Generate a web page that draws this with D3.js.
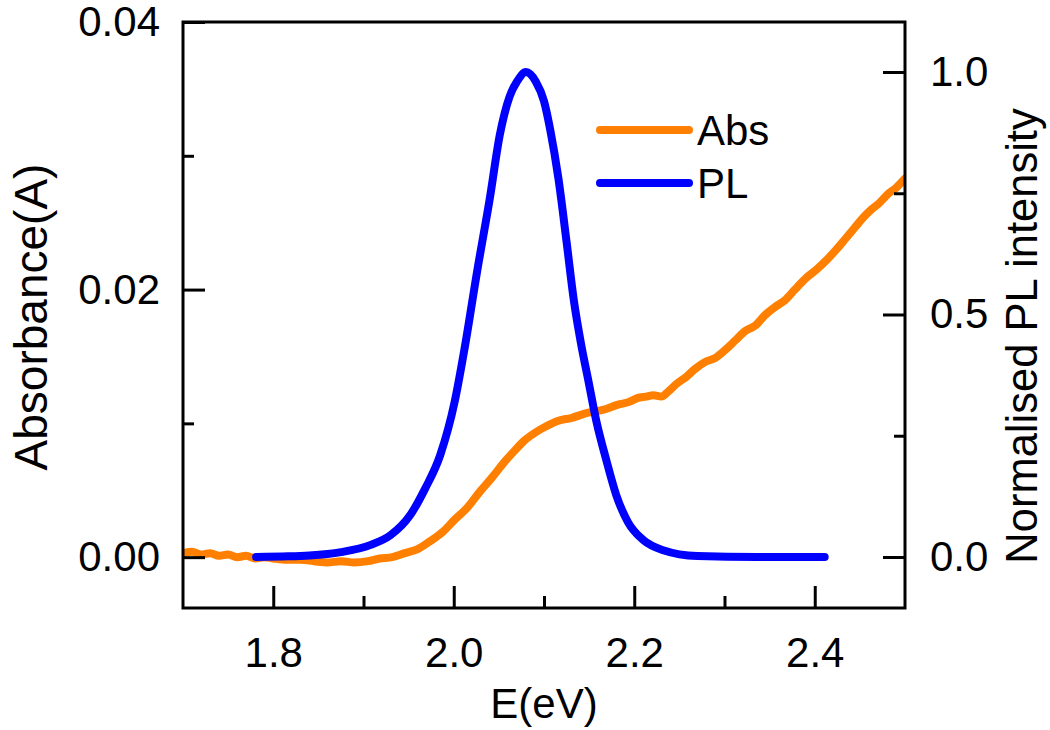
<!DOCTYPE html>
<html>
<head>
<meta charset="utf-8">
<script src="https://cdn.jsdelivr.net/npm/d3@7"></script>
<style>
  html, body { margin: 0; padding: 0; background: #fff; }
  svg { display: block; font-family: "Liberation Sans", Arial, sans-serif; }
</style>
</head>
<body>
<svg id="chart" width="1050" height="730"></svg>
<script>
// Absorbance spectrum (left axis)
const absEnergy = [1.700, 1.710, 1.720, 1.730, 1.740, 1.750, 1.760, 1.770, 1.780, 1.790,
  1.800, 1.815, 1.830, 1.845, 1.860, 1.875, 1.890, 1.905, 1.918, 1.932,
  1.946, 1.960, 1.974, 1.988, 2.001, 2.015, 2.029, 2.043, 2.056, 2.068,
  2.078, 2.090, 2.103, 2.116, 2.130, 2.149, 2.165, 2.182, 2.194, 2.204,
  2.213, 2.221, 2.230, 2.238, 2.246, 2.258, 2.268, 2.279, 2.290, 2.301,
  2.312, 2.323, 2.334, 2.345, 2.356, 2.367, 2.378, 2.391, 2.402, 2.413,
  2.424, 2.434, 2.444, 2.454, 2.463, 2.472, 2.482, 2.490, 2.500];
const absValue = [0.0003, 0.0004, 0.0002, 0.0003, 0.0001, 0.0002, 0.0000, 0.0001, -0.0001, 0.0000,
  -0.0001, -0.0002, -0.0002, -0.0003, -0.0004, -0.0003, -0.0004, -0.0003, -0.0001, 0.0000,
  0.0003, 0.0006, 0.0012, 0.0019, 0.0028, 0.0037, 0.0049, 0.0060, 0.0071, 0.0080,
  0.0087, 0.0093, 0.0098, 0.0102, 0.0104, 0.0108, 0.0110, 0.0114, 0.0116, 0.0119,
  0.0120, 0.0121, 0.0120, 0.0124, 0.0129, 0.0135, 0.0141, 0.0146, 0.0149, 0.0155,
  0.0162, 0.0169, 0.0173, 0.0181, 0.0187, 0.0192, 0.0200, 0.0209, 0.0215, 0.0222,
  0.0230, 0.0238, 0.0246, 0.0254, 0.0260, 0.0265, 0.0272, 0.0276, 0.0283];

// Photoluminescence spectrum, normalised (right axis)
const plEnergy = [1.781, 1.810, 1.840, 1.875, 1.908, 1.930, 1.952, 1.968, 1.985, 2.001,
  2.012, 2.026, 2.040, 2.051, 2.062, 2.070, 2.080, 2.091, 2.100, 2.107,
  2.116, 2.125, 2.133, 2.141, 2.149, 2.158, 2.169, 2.180, 2.193, 2.210,
  2.232, 2.270, 2.336, 2.411];
const plValue = [0.000, 0.001, 0.003, 0.010, 0.025, 0.045, 0.087, 0.140, 0.210, 0.320,
  0.430, 0.590, 0.740, 0.870, 0.950, 0.980, 1.000, 0.980, 0.940, 0.880,
  0.780, 0.650, 0.530, 0.440, 0.365, 0.280, 0.200, 0.128, 0.072, 0.035,
  0.014, 0.002, 0.000, 0.000];

const absTicks = [0.00, 0.02, 0.04];
const absMinorTicks = [0.01, 0.03];
const plTicks = [0.0, 0.5, 1.0];
const plMinorTicks = [0.25, 0.75];
const energyTicks = [1.8, 2.0, 2.2, 2.4];
const energyMinorTicks = [1.9, 2.1, 2.3];

const legendItems = [
  { label: "Abs", color: "#ff7f00" },
  { label: "PL", color: "#0000ff" }
];

const svg = d3.select("#chart");
const plot = { left: 183, right: 905, top: 22, bottom: 608 };
const fontSize = 42;
const lineWidth = 8;

const x = d3.scaleLinear().domain([1.7, 2.5]).range([plot.left, plot.right]);
const yAbs = d3.scaleLinear().domain([-0.0038, 0.04]).range([plot.bottom, plot.top]);
const yPL = d3.scaleLinear().domain([-0.1052, 1.1031]).range([plot.bottom, plot.top]);

svg.append("defs").append("clipPath").attr("id", "plot-clip")
  .append("rect")
  .attr("x", plot.left).attr("y", plot.top)
  .attr("width", plot.right - plot.left).attr("height", plot.bottom - plot.top);

// Data lines
const absLine = d3.line().x((d, i) => x(absEnergy[i])).y(d => yAbs(d)).curve(d3.curveMonotoneX);
const plLine = d3.line().x((d, i) => x(plEnergy[i])).y(d => yPL(d)).curve(d3.curveMonotoneX);

const lines = svg.append("g").attr("clip-path", "url(#plot-clip)");
lines.append("path").datum(absValue)
  .attr("d", absLine)
  .attr("fill", "none").attr("stroke", legendItems[0].color)
  .attr("stroke-width", lineWidth).attr("stroke-linecap", "round").attr("stroke-linejoin", "round");
lines.append("path").datum(plValue)
  .attr("d", plLine)
  .attr("fill", "none").attr("stroke", legendItems[1].color)
  .attr("stroke-width", lineWidth).attr("stroke-linecap", "round").attr("stroke-linejoin", "round");

// Axes: ticks point inward
function styleAxis(g) {
  g.select(".domain").remove();
  g.selectAll("line").attr("stroke", "#000").attr("stroke-width", 3);
  g.selectAll("text").attr("font-size", fontSize).attr("fill", "#000")
    .attr("font-family", "'Liberation Sans', Arial, sans-serif");
}

const bottomMajor = svg.append("g").attr("transform", `translate(0,${plot.bottom})`)
  .call(d3.axisBottom(x).tickValues(energyTicks).tickFormat(d3.format(".1f"))
    .tickSize(-22).tickPadding(29));
styleAxis(bottomMajor);
const bottomMinor = svg.append("g").attr("transform", `translate(0,${plot.bottom})`)
  .call(d3.axisBottom(x).tickValues(energyMinorTicks).tickFormat("").tickSize(-12));
styleAxis(bottomMinor);

const leftMajor = svg.append("g").attr("transform", `translate(${plot.left},0)`)
  .call(d3.axisLeft(yAbs).tickValues(absTicks).tickFormat(d3.format(".2f"))
    .tickSize(-22).tickPadding(23));
styleAxis(leftMajor);
const leftMinor = svg.append("g").attr("transform", `translate(${plot.left},0)`)
  .call(d3.axisLeft(yAbs).tickValues(absMinorTicks).tickFormat("").tickSize(-11));
styleAxis(leftMinor);

const rightMajor = svg.append("g").attr("transform", `translate(${plot.right},0)`)
  .call(d3.axisRight(yPL).tickValues(plTicks).tickFormat(d3.format(".1f"))
    .tickSize(-22).tickPadding(25));
styleAxis(rightMajor);
const rightMinor = svg.append("g").attr("transform", `translate(${plot.right},0)`)
  .call(d3.axisRight(yPL).tickValues(plMinorTicks).tickFormat("").tickSize(-11));
styleAxis(rightMinor);

// Frame
svg.append("rect")
  .attr("x", plot.left).attr("y", plot.top)
  .attr("width", plot.right - plot.left).attr("height", plot.bottom - plot.top)
  .attr("fill", "none").attr("stroke", "#000").attr("stroke-width", 3);

// Axis titles
svg.append("text")
  .attr("x", (plot.left + plot.right) / 2).attr("y", 718)
  .attr("text-anchor", "middle").attr("font-size", fontSize)
  .text("E(eV)");
svg.append("text")
  .attr("transform", "translate(47,317) rotate(-90)")
  .attr("text-anchor", "middle").attr("font-size", 46)
  .text("Absorbance(A)");
svg.append("text")
  .attr("transform", "translate(1037,336) rotate(-90)")
  .attr("text-anchor", "middle").attr("font-size", 43.5)
  .text("Normalised PL intensity");

// Legend
const legend = svg.append("g");
legendItems.forEach((item, i) => {
  const yPos = 130 + i * 53;
  legend.append("line")
    .attr("x1", 600).attr("x2", 689).attr("y1", yPos).attr("y2", yPos)
    .attr("stroke", item.color).attr("stroke-width", lineWidth).attr("stroke-linecap", "round");
  legend.append("text")
    .attr("x", 697).attr("y", yPos + 15)
    .attr("font-size", fontSize)
    .text(item.label);
});
</script>
</body>
</html>
